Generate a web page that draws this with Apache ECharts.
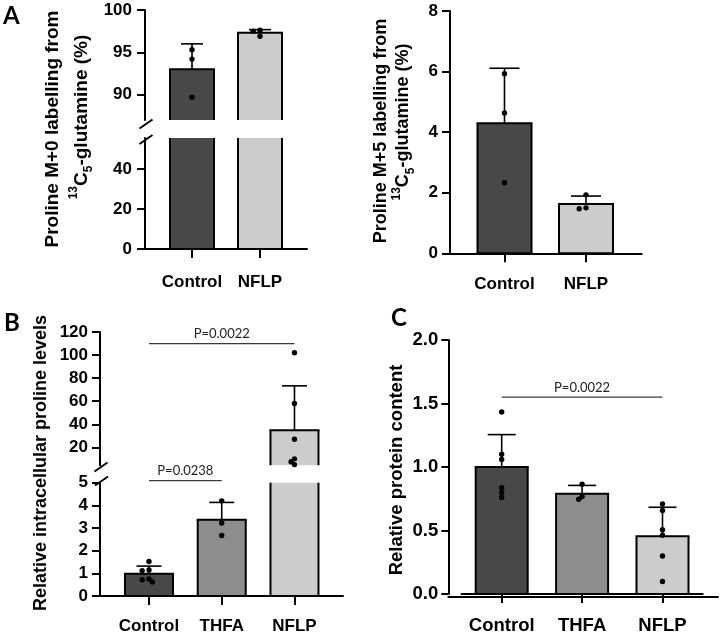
<!DOCTYPE html>
<html><head><meta charset="utf-8">
<script src="https://cdn.jsdelivr.net/npm/echarts@6/dist/echarts.min.js"></script>
<style>html,body{margin:0;padding:0;background:#fff}#c{width:720px;height:635px}</style>
</head><body><div id="c"></div>
<script>
// ---------------- DATA ----------------
const catsA = ['Control', 'NFLP'];
const m0Mean = [93.0, 97.3];
const m0SD = [3.0, 0.38];
const m0PtsControl = [95.3, 94.2, 89.7];
const m0PtsNFLP = [97.6, 97.5, 96.9];
const m0TicksUpper = [90, 95, 100];
const m0TicksLower = [0, 20, 40];

const m5Mean = [4.29, 1.63];
const m5SD = [1.82, 0.26];
const m5PtsControl = [5.93, 4.63, 2.33];
const m5PtsNFLP = [1.93, 1.50, 1.47];
const m5Ticks = [0, 2, 4, 6, 8];

const catsB = ['Control', 'THFA', 'NFLP'];
const proMean = [0.98, 3.36, 34.9];
const proSD = [0.34, 0.77, 38.4];
const proPtsControl = [1.52, 1.12, 1.15, 0.75, 0.62, 0.72];
const proPtsTHFA = [4.20, 3.22, 2.67];
const proPtsNFLP = [102, 58, 27, 10, 7.5, 5.0];
const proTicksUpper = [20, 40, 60, 80, 100, 120];
const proTicksLower = [0, 1, 2, 3, 4, 5];
const proSigUpper = [['Control', 'NFLP', 110, 'P=0.0022']];
const proSigLower = [['Control', 'THFA', 5.09, 'P=0.0238']];

const protMean = [1.0, 0.79, 0.455];
const protSD = [0.255, 0.065, 0.228];
const protPtsControl = [1.434, 1.10, 1.06, 0.837, 0.80, 0.76];
const protPtsTHFA = [0.865, 0.746, 0.767];
const protPtsNFLP = [0.709, 0.657, 0.506, 0.463, 0.299, 0.099];
const protTicks = [0, 0.5, 1.0, 1.5, 2.0];
const protSig = [['Control', 'NFLP', 1.55, 'P=0.0022']];

// ---------------- STYLE / LAYOUT ----------------
const FONT = "'Liberation Sans', Arial, Helvetica, sans-serif";
const PFONT = "Lato, 'Open Sans', sans-serif";
const BORDER = 2;
const DOT_R = 2.7;
const COLORS = { Control: '#484848', THFA: '#8d8d8d', NFLP: '#cccccc' };

const panels = {
  a0: { cats: catsA, mean: m0Mean, sd: m0SD, pts: [m0PtsControl, m0PtsNFLP],
        axisX: 145, left: 158, width: 136, right: 307, barW: 44, capW: 22,
        yFont: 17, yMargin: 13, xFont: 17, xMargin: 25, tickLen: 8,
        segs: [
          { top: 10, bottom: 120, min: 87, max: 100, ticks: m0TicksUpper, showX: false, sig: [] },
          { top: 138, bottom: 249, min: 0, max: 55.5, ticks: m0TicksLower, showX: true, sig: [] }
        ] },
  a5: { cats: catsA, mean: m5Mean, sd: m5SD, pts: [m5PtsControl, m5PtsNFLP],
        axisX: 450, left: 463.75, width: 163, right: 641.7, barW: 54, capW: 30,
        yFont: 17, yMargin: 12, xFont: 17, xMargin: 23, tickLen: 8,
        segs: [
          { top: 11, bottom: 253.3, min: 0, max: 8, ticks: m5Ticks, showX: true, sig: [] }
        ] },
  b: { cats: catsB, mean: proMean, sd: proSD, pts: [proPtsControl, proPtsTHFA, proPtsNFLP],
       axisX: 100, left: 112.6, width: 218.25, right: 343, barW: 48, capW: 25,
       yFont: 17, yMargin: 12, xFont: 17, xMargin: 22, tickLen: 8,
       segs: [
         { top: 332, bottom: 465.2, min: 4.5, max: 120, ticks: proTicksUpper, showX: false, sig: proSigUpper },
         { top: 482.7, bottom: 596, min: 0, max: 5, ticks: proTicksLower, showX: true, sig: proSigLower }
       ] },
  c: { cats: catsB, mean: protMean, sd: protSD, pts: [protPtsControl, protPtsTHFA, protPtsNFLP],
       axisX: 448.3, left: 461.5, width: 241.2, right: 718, barW: 52, capW: 28,
       yFont: 18.5, yMargin: 10, xFont: 18.5, xMargin: 22, tickLen: 7, fmt: v => v.toFixed(1),
       segs: [
         { top: 340, bottom: 596.7, min: 0, max: 2, ticks: protTicks, showX: true, sig: protSig }
       ] }
};

const grids = [], xAxes = [], yAxes = [], series = [];
const axisLS = { color: '#000', width: 2 };

function swarm(vals, toPx, r) {
  const order = vals.map((v, i) => i).sort((a, b) => vals[b] - vals[a]);
  const placed = [], off = new Array(vals.length).fill(0);
  const cand = [0, -1, 1, -2, 2, -3, 3];
  const minD = 1.6 * r;
  for (const i of order) {
    const y = toPx(vals[i]);
    for (const c of cand) {
      const x = c * 3.4;
      if (placed.every(p => Math.hypot(p.x - x, p.y - y) >= minD)) { off[i] = x; placed.push({ x, y }); break; }
    }
  }
  return off;
}

function addPanel(P) {
  P.segs.forEach(seg => {
    const gi = grids.length;
    grids.push({ left: P.left, width: P.width, top: seg.top, height: seg.bottom - seg.top });
    xAxes.push({
      gridIndex: gi, type: 'category', data: P.cats, show: seg.showX, boundaryGap: true,
      axisLine: { show: true, onZero: false, lineStyle: axisLS },
      axisTick: { show: true, alignWithLabel: true, length: 9, lineStyle: axisLS },
      axisLabel: { interval: 0, margin: P.xMargin, fontSize: P.xFont, fontWeight: 'bold', color: '#000', fontFamily: FONT }
    });
    yAxes.push({
      gridIndex: gi, type: 'value', min: seg.min, max: seg.max, offset: P.left - P.axisX,
      axisLine: { show: true, lineStyle: axisLS },
      axisTick: { show: true, length: P.tickLen, customValues: seg.ticks, lineStyle: axisLS },
      axisLabel: { customValues: seg.ticks, margin: P.yMargin, fontSize: P.yFont, fontWeight: 'bold',
                   color: '#000', fontFamily: FONT, formatter: P.fmt ? P.fmt : (v => String(v)) },
      splitLine: { show: false }
    });
    const ax = gi;
    const inside = (y, cs) => y > cs.y + 0.3 && y < cs.y + cs.height + 0.05;
    // bars
    series.push({
      type: 'custom', xAxisIndex: ax, yAxisIndex: ax, z: 2, clip: false,
      data: P.mean.map((m, i) => [i, m]),
      renderItem: (params, api) => {
        const i = api.value(0), v = api.value(1), cs = params.coordSys;
        const pt = api.coord([i, v]), top = pt[1], base = api.coord([i, 0])[1];
        const y0 = Math.max(top, cs.y), y1 = Math.min(base, cs.y + cs.height);
        if (y1 <= y0 + 0.5) return null;
        const x0 = pt[0] - P.barW / 2, x1 = pt[0] + P.barW / 2;
        const ls = { stroke: '#000', lineWidth: BORDER };
        const ch = [
          { type: 'rect', shape: { x: x0, y: y0, width: P.barW, height: y1 - y0 }, style: { fill: COLORS[P.cats[i]] } },
          { type: 'line', shape: { x1: x0, y1: y0, x2: x0, y2: y1 }, style: ls },
          { type: 'line', shape: { x1: x1, y1: y0, x2: x1, y2: y1 }, style: ls }
        ];
        if (top >= cs.y - 0.5) ch.push({ type: 'line', shape: { x1: x0 - 1, y1: top, x2: x1 + 1, y2: top }, style: ls });
        if (base <= cs.y + cs.height + 0.5) ch.push({ type: 'line', shape: { x1: x0 - 1, y1: base, x2: x1 + 1, y2: base }, style: ls });
        return { type: 'group', children: ch };
      }
    });
    // error bars
    series.push({
      type: 'custom', xAxisIndex: ax, yAxisIndex: ax, z: 3, clip: false,
      data: P.mean.map((m, i) => [i, m, P.sd[i]]),
      renderItem: (params, api) => {
        const i = api.value(0), m = api.value(1), s = api.value(2), cs = params.coordSys;
        const pm = api.coord([i, m]), yT = api.coord([i, m + s])[1];
        const clamp = y => Math.min(Math.max(y, cs.y), cs.y + cs.height);
        const ya = clamp(pm[1]), yb = clamp(yT);
        const ls = { stroke: '#000', lineWidth: 1.6 };
        const ch = [];
        if (ya - yb > 0.5) ch.push({ type: 'line', shape: { x1: pm[0], y1: ya, x2: pm[0], y2: yb }, style: ls });
        if (inside(yT, cs))
          ch.push({ type: 'line', shape: { x1: pm[0] - P.capW / 2, y1: yT, x2: pm[0] + P.capW / 2, y2: yT }, style: ls });
        return { type: 'group', children: ch };
      }
    });
    // dots
    const dd = [];
    P.pts.forEach((arr, i) => arr.forEach((v, k) => dd.push([i, v, k])));
    series.push({
      type: 'custom', xAxisIndex: ax, yAxisIndex: ax, z: 4, clip: false, data: dd,
      renderItem: (params, api) => {
        const i = api.value(0), k = api.value(2), cs = params.coordSys;
        const vals = P.pts[i];
        const offs = swarm(vals, v => api.coord([i, v])[1], DOT_R);
        const c = api.coord([i, vals[k]]);
        if (!inside(c[1], cs)) return null;
        return { type: 'circle', shape: { cx: c[0] + offs[k], cy: c[1], r: DOT_R }, style: { fill: '#000' } };
      }
    });
    // significance
    if (seg.sig.length) {
      series.push({
        type: 'custom', xAxisIndex: ax, yAxisIndex: ax, z: 5, clip: false,
        data: seg.sig.map(s => [P.cats.indexOf(s[0]), P.cats.indexOf(s[1]), s[2]]),
        renderItem: (params, api) => {
          const a = api.coord([api.value(0), api.value(2)]), b = api.coord([api.value(1), api.value(2)]);
          const label = seg.sig[params.dataIndex][3];
          return { type: 'group', children: [
            { type: 'line', shape: { x1: a[0], y1: a[1], x2: b[0], y2: b[1] }, style: { stroke: '#3a3a3a', lineWidth: 1.3 } },
            { type: 'text', style: { text: label, x: (a[0] + b[0]) / 2, y: a[1] - 3, textAlign: 'center', align: 'center',
                textVerticalAlign: 'bottom', verticalAlign: 'bottom', fontSize: 13, fontFamily: PFONT, fill: '#222' } }
          ] };
        }
      });
    }
  });
  // baseline frame grid
  const last = P.segs[P.segs.length - 1];
  const fi = grids.length;
  grids.push({ left: P.axisX, width: P.right - P.axisX, top: last.top, height: last.bottom - last.top });
  xAxes.push({ gridIndex: fi, type: 'value', min: 0, max: 1,
    axisLine: { show: true, onZero: false, lineStyle: axisLS }, axisTick: { show: false }, axisLabel: { show: false }, splitLine: { show: false } });
  yAxes.push({ gridIndex: fi, type: 'value', min: 0, max: 1, show: false, splitLine: { show: false } });
}

Object.values(panels).forEach(addPanel);

// ---------------- TEXT / DECORATION ----------------
const richT = (fs) => ({
  n: { fontSize: fs, fontWeight: 'bold', fontFamily: FONT, fill: '#000', lineHeight: fs + 8 },
  sup: { fontSize: Math.round(fs * 0.65), fontWeight: 'bold', fontFamily: FONT, fill: '#000', verticalAlign: 'top', lineHeight: fs + 8 },
  sub: { fontSize: Math.round(fs * 0.65), fontWeight: 'bold', fontFamily: FONT, fill: '#000', verticalAlign: 'bottom', lineHeight: fs + 8 }
});
function vText(x, y, text, fs, rich) {
  return { type: 'text', x: x, y: y, rotation: Math.PI / 2, z: 10,
    style: { text: text, rich: rich, fontSize: fs, fontWeight: 'bold', fontFamily: FONT, fill: '#000',
      textAlign: 'center', align: 'center', textVerticalAlign: 'middle', verticalAlign: 'middle' } };
}
function letter(x, y, t) {
  return { type: 'text', x: x, y: y, z: 10, style: { text: t, fontSize: 24, fontWeight: 'bold', fontFamily: PFONT, fill: '#000',
    textAlign: 'left', align: 'left', textVerticalAlign: 'top', verticalAlign: 'top' } };
}
function slash(cx, cy) {
  return { type: 'line', z: 10, shape: { x1: cx - 6.5, y1: cy + 4.5, x2: cx + 6.5, y2: cy - 4.5 }, style: { stroke: '#000', lineWidth: 2 } };
}
const graphics = [
  letter(3, 4, 'A'), letter(4, 311, 'B'), letter(391, 306, 'C'),
  vText(53, 129, '{n|Proline M+0 labelling from}', 19, richT(19)),
  vText(81.5, 117, '{sup|13}{n|C}{sub|5}{n|-glutamine (%)}', 19, richT(19)),
  vText(381.5, 131, '{n|Proline M+5 labelling from}', 18, richT(18)),
  vText(403.5, 122, '{sup|13}{n|C}{sub|5}{n|-glutamine (%)}', 18, richT(18)),
  vText(41, 463, 'Relative intracellular proline levels', 18),
  vText(396.5, 470, 'Relative protein content', 18.5),
  slash(146, 124), slash(146, 139.5),
  slash(101, 467), slash(101.5, 481)
];

const chart = echarts.init(document.getElementById('c'), null, { renderer: 'canvas' });
chart.setOption({
  animation: false,
  backgroundColor: '#fff',
  grid: grids, xAxis: xAxes, yAxis: yAxes, series: series,
  graphic: { elements: graphics }
});
</script></body></html>
